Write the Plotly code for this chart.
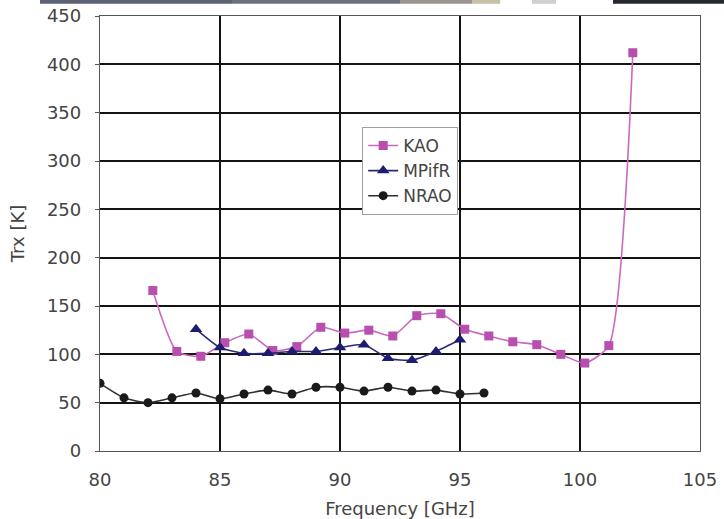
import plotly.graph_objects as go

# ---- data ----
kao_x = [82.2, 83.2, 84.2, 85.2, 86.2, 87.2, 88.2, 89.2, 90.2, 91.2, 92.2,
         93.2, 94.2, 95.2, 96.2, 97.2, 98.2, 99.2, 100.2, 101.2, 102.2]
kao_y = [166, 103, 98, 112, 121, 104, 108, 128, 122, 125, 119,
         140, 142, 126, 119, 113, 110, 100, 91, 109, 412]

mpifr_x = [84, 85, 86, 87, 88, 89, 90, 91, 92, 93, 94, 95]
mpifr_y = [126, 107, 101, 101, 103, 103, 107, 110, 96, 94, 103, 115]

nrao_x = [80, 81, 82, 83, 84, 85, 86, 87, 88, 89, 90, 91, 92, 93, 94, 95, 96]
nrao_y = [70, 55, 50, 55, 60, 54, 59, 63, 59, 66, 66, 62, 66, 62, 63, 59, 60]

x_ticks = [80, 85, 90, 95, 100, 105]
y_ticks = [0, 50, 100, 150, 200, 250, 300, 350, 400, 450]

FONT = "DejaVu Sans"
TXT = "#444444"

fig = go.Figure()
fig.add_trace(go.Scatter(
    x=kao_x, y=kao_y, name="KAO", mode="lines+markers",
    line=dict(color="#c868c0", width=1.6, shape="spline", smoothing=0.6),
    marker=dict(symbol="square", size=9, color="#b84fae"),
))
fig.add_trace(go.Scatter(
    x=mpifr_x, y=mpifr_y, name="MPifR", mode="lines+markers",
    line=dict(color="#2a2a78", width=1.6, shape="spline", smoothing=0.6),
    marker=dict(symbol="triangle-up", size=11, color="#1c1c70"),
))
fig.add_trace(go.Scatter(
    x=nrao_x, y=nrao_y, name="NRAO", mode="lines+markers",
    line=dict(color="#303030", width=1.6, shape="spline", smoothing=0.6),
    marker=dict(symbol="circle", size=9, color="#1a1a1a"),
))

# top strip artifacts from the cropped source image (paper coords)
strip = [(-0.10, 0.22, "#5c6274"), (0.22, 0.50, "#6e7080"), (0.50, 0.62, "#9a9690"),
         (0.62, 0.667, "#c8c0a8"), (0.72, 0.76, "#d0d0d0"), (0.855, 1.04, "#262a2e")]
shapes = []
for x0, x1, c in strip:
    shapes.append(dict(type="rect", xref="paper", yref="paper", x0=x0, x1=x1,
                       y0=1.028, y1=1.037, fillcolor=c, line=dict(width=0), layer="above"))

fig.update_layout(
    width=724, height=519,
    margin=dict(l=100, r=24, t=16, b=68, autoexpand=False),
    paper_bgcolor="white", plot_bgcolor="white",
    font=dict(family=FONT, size=17, color=TXT),
    showlegend=True,
    legend=dict(
        x=0.437, y=0.745, xanchor="left", yanchor="top",
        bgcolor="white", bordercolor="#a0a0a0", borderwidth=1,
        font=dict(family=FONT, size=17, color=TXT),
        tracegroupgap=0, itemwidth=30,
    ),
    shapes=shapes,
    xaxis=dict(
        range=[80, 105], tickvals=x_ticks, ticktext=[str(v) for v in x_ticks],
        showgrid=True, gridcolor="#141414", gridwidth=1.5,
        showline=True, linecolor="#555555", linewidth=1.3, mirror=True,
        zeroline=False, ticks="", ticklabelstandoff=12, automargin=False,
        title=dict(text="Frequency [GHz]", font=dict(family=FONT, size=18, color=TXT), standoff=14),
        tickfont=dict(family=FONT, size=18, color=TXT),
    ),
    yaxis=dict(
        range=[0, 450], tickvals=y_ticks, ticktext=[str(v) for v in y_ticks],
        showgrid=True, gridcolor="#141414", gridwidth=1.5,
        showline=True, linecolor="#555555", linewidth=1.3, mirror=True,
        zeroline=False, ticks="outside", ticklen=4, tickcolor="#555555", ticklabelstandoff=10,
        automargin=False,
        title=dict(text="Trx [K]", font=dict(family=FONT, size=18, color=TXT), standoff=17),
        tickfont=dict(family=FONT, size=18, color=TXT),
    ),
)

fig.write_html("out.html")
